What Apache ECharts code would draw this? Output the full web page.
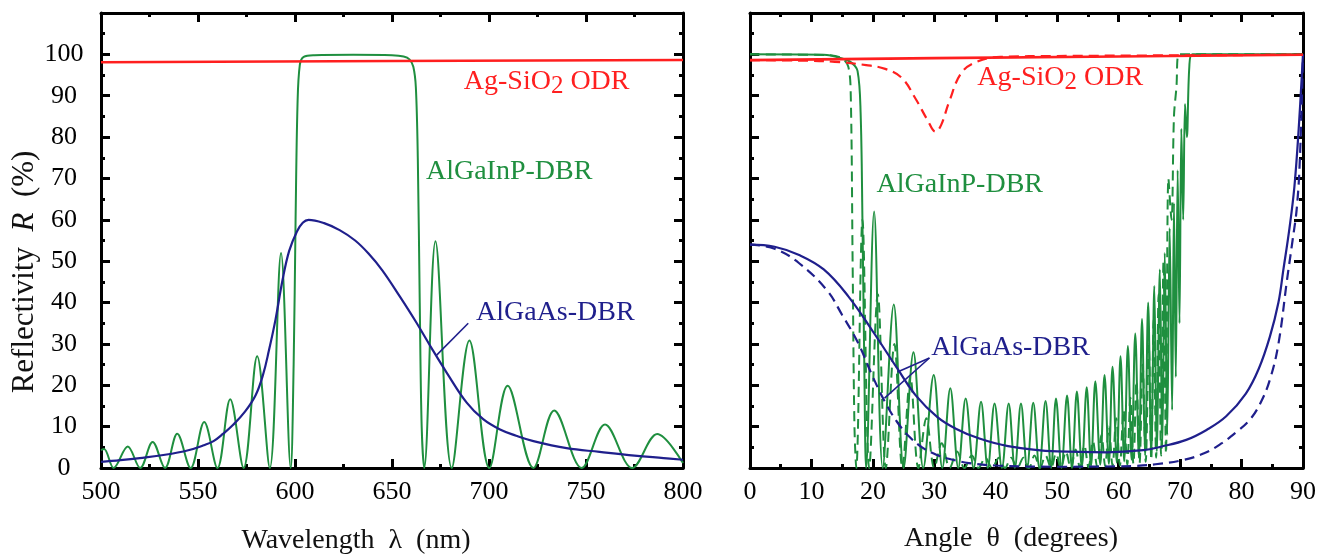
<!DOCTYPE html>
<html><head><meta charset="utf-8">
<script src="https://cdn.jsdelivr.net/npm/echarts@6/dist/echarts.min.js"></script>
<style>html,body{margin:0;padding:0;background:#fff}#c{width:1319px;height:558px}</style>
</head><body><div id="c"></div>
<script>
// ---------- DATA ----------
// Left panel: reflectivity vs wavelength (nm)
const redLeft = [[500,98.1],[650,98.4],[800,98.65]];
const greenLeft = [[500,4.3],[501.6,4.6],[506.5,0],[513.8,5.2],[520.2,0],[526.6,6.3],[533,0],[539.3,8.3],[546.2,0],[553.2,11.1],[560,0],[566.6,16.6],[573.5,0],[580.5,27],[587,0],[592.8,52],[597.8,0],[599.3,25],[600.3,60],[601.3,88],[602.5,97.5],[604.5,99.4],[610,99.8],[630,99.9],[650,99.8],[656,99.5],[659,98.8],[661,97],[662.3,92],[663.3,75],[664.3,40],[665.3,10],[666.6,0],[672.4,54.8],[680.8,0],[689.9,30.8],[700.2,0],[709.6,19.9],[722.9,0],[733.6,13.9],[747.8,0],[759.8,10.5],[773.8,0],[786.7,8.2],[800,1.2]];
const blueLeft = [[500,1.5],[510,1.9],[520,2.4],[533,3.2],[545,4.3],[553,5.5],[558,6.5],[563,8.3],[568,10.4],[574,13.5],[579.7,17.6],[583.5,22.5],[586.6,28.5],[590,36],[593.6,45.5],[597,52.5],[601,57.2],[604,59.3],[607,60],[615,59.2],[623,57.5],[631,55],[638,51.8],[645,47.8],[654,41.5],[662,35.6],[671,28.5],[678,23.2],[688.5,15.8],[697,11.8],[705.7,9.3],[714,7.8],[722.9,6.5],[740,4.8],[757,3.9],[775,3.0],[790,2.4],[800,2.0]];

// Right panel: reflectivity vs angle (degrees)
const redRight = [[0,98.6],[30,99.1],[60,99.5],[90,99.9]];
const redRightDash = [[0,98.6],[8,98.5],[13.8,98.2],[18.9,97.4],[22,96.5],[24.7,94.3],[26.9,89.4],[28.9,84.1],[30.2,81.3],[31.1,82.9],[32.4,88.5],[34.4,95.5],[36.9,98.2],[40.8,99.4],[50,99.6],[90,99.9]];
const greenRight = [[0,100],[12,99.9],[15,99],[16.5,98],[17.5,96],[18,86],[18.3,60],[18.6,25],[18.9,0],[20.2,62],[21.6,0],[23.4,39.5],[25.0,0],[26.6,28],[28.2,0],[29.9,22.5],[31.3,0],[32.6,19.3],[33.9,0],[35.1,16.8],[36.4,0],[37.6,16],[38.7,0],[39.8,15.6],[41,0],[42.1,15.6],[43.1,0],[44.1,15.6],[45.1,0],[46.1,15.8],[47.1,0],[48.1,16.2],[49,0],[49.8,16.8],[50.7,0],[51.6,17.5],[52.4,0],[53.2,18.5],[54,0.3],[54.8,19.5],[55.5,0.5],[56.2,21],[57,0.8],[57.7,22.5],[58.4,1],[59,24.5],[59.7,1.3],[60.3,27],[60.9,1.6],[61.5,29.5],[62.1,2],[62.7,32.5],[63.3,2.5],[63.8,36],[64.3,3],[64.8,40],[65.3,3.5],[65.8,44],[66.2,4],[66.7,48],[67.1,5],[67.5,52],[67.9,8],[68.3,58],[68.7,14],[69.0,64],[69.3,22],[69.6,72],[69.9,35],[70.2,82],[70.5,60],[70.8,88],[71.1,80],[71.5,97],[72,100],[90,100]];
const greenRightDash = [[0,100],[13,99.8],[15,99],[16,97],[16.4,90],[16.7,50],[17.0,10],[17.3,0],[18.3,60],[19.4,0],[20.8,42],[22.1,0],[23.5,30],[24.8,0],[26.1,22],[27.4,0],[28.7,12],[30,0],[31.2,6],[32.5,0],[33.7,4],[34.9,0],[36.1,3],[37.2,0],[38.3,2.5],[39.4,0],[40.5,2.5],[41.5,0],[42.5,2.5],[43.5,0],[44.5,2.5],[45.4,0],[46.3,3],[47.2,0],[48.1,3],[49,0],[49.8,3.5],[50.6,0],[51.4,4],[52.2,0],[53,4.5],[53.7,0],[54.4,5.5],[55.1,0.2],[55.8,6.5],[56.5,0.3],[57.2,8],[57.8,0.4],[58.4,10],[59,0.5],[59.6,12],[60.2,0.6],[60.8,14],[61.4,0.8],[61.9,17],[62.4,1],[62.9,21],[63.4,1.2],[63.9,25],[64.4,1.5],[64.9,30],[65.3,2],[65.7,36],[66.1,2.5],[66.5,42],[66.9,3],[67.3,50],[67.7,3.5],[68.1,70],[68.6,60],[69,85],[69.4,92],[69.8,100],[90,100]];
const blueRight = [[0,54],[4,53.5],[8,51.5],[12,48],[16,41.5],[20,33],[24,24],[27,17.5],[30.5,12.3],[33.5,9.5],[37,7.3],[42,5.3],[50,4],[58,3.8],[64,4.3],[67,5.2],[71,6.8],[74.3,9.2],[77.5,12.5],[80.7,18],[82.8,24],[84.6,31.7],[86,40],[86.8,47.9],[87.8,58],[88.6,68],[89.3,82],[90,100]];
const blueRightDash = [[0,54],[4,53],[8,49.5],[12.5,43],[15,37],[17.6,30.2],[20,22],[22.1,15.6],[24,11],[25.9,7.6],[28,5],[30.5,3.1],[33,2],[35.6,1.2],[40,0.6],[50,0.3],[60,0.4],[62.7,0.5],[66,0.9],[70.4,1.9],[74,3.6],[76.8,6],[79,8.5],[81.3,11.6],[83,15.5],[84.6,21.3],[86,30],[87.4,45.5],[88.3,55],[89,63],[89.5,75],[90,100]];

// Axes ranges / ticks
const wlRange = [500, 800, 50];
const angRange = [0, 90, 10];
const rRange = [0, 110, 10];

// Text
const xTitleLeft = 'Wavelength\u00a0\u00a0λ\u00a0\u00a0(nm)';
const xTitleRight = 'Angle\u00a0\u00a0θ\u00a0\u00a0(degrees)';
const yTitle = ['Reflectivity\u00a0\u00a0', 'R', '\u00a0\u00a0(%)'];
const labels = [
  {panel:0, at:[687,93.3], kind:'odr'},
  {panel:0, at:[667.5,71.6], kind:'gainp'},
  {panel:0, at:[693.3,37.5], kind:'gaas'},
  {panel:1, at:[37.0,94.3], kind:'odr'},
  {panel:1, at:[20.6,68.4], kind:'gainp'},
  {panel:1, at:[29.5,29.0], kind:'gaas'}
];
const leaderLeft = [[[689.3,35.0],[673,27.3]]];
const leaderRight = [[[29.2,26.6],[24.0,23.2]],[[29.2,26.6],[21.9,16.9]]];

// ---------- CHART ----------
const FONT = 'Liberation Serif';
const RED = '#ff1f1f', GREEN = '#1f8f3f', BLUE = '#1f1f8c';
const tickRich = {t:{fontFamily:FONT, fontSize:26, color:'#000'}};

function xAx(grid, r, pos, showLabel) {
  return {type:'value', gridIndex:grid, position:pos, min:r[0], max:r[1], interval:r[2],
    axisLine:{show:true, onZero:false, lineStyle:{color:'#000', width:3}},
    axisTick:{show:true, inside:true, length:9, lineStyle:{color:'#000', width:3}},
    minorTick:{show:true, splitNumber:2, length:4, lineStyle:{color:'#000', width:3}},
    splitLine:{show:false}, minorSplitLine:{show:false},
    axisLabel:{show:showLabel, color:'#000', fontFamily:FONT, fontSize:26, margin:11,
      formatter: v => '{t|' + v + '}', rich:tickRich}
  };
}
function yAx(grid, r, pos, showLabel) {
  return {type:'value', gridIndex:grid, position:pos, min:r[0], max:r[1], interval:r[2],
    axisLine:{show:true, onZero:false, lineStyle:{color:'#000', width:3}},
    axisTick:{show:true, inside:true, length:9, lineStyle:{color:'#000', width:3}},
    minorTick:{show:true, splitNumber:2, length:4, lineStyle:{color:'#000', width:3}},
    splitLine:{show:false}, minorSplitLine:{show:false},
    axisLabel:{show:showLabel, color:'#000', fontFamily:FONT, fontSize:26, margin:37, align:'center',
      formatter: v => (v > 100 ? '' : '{t|' + v + '}'), rich:tickRich}
  };
}
function line(name, data, xi, color, width, dashed, smooth, z) {
  return {type:'line', name, data, xAxisIndex:xi, yAxisIndex:xi, showSymbol:false, symbol:'none',
    smooth, z, lineStyle:{color, width, type: dashed ? [10,6] : 'solid'}, silent:true};
}
function leader(segs) {
  return {silent:true, symbol:['none','none'], label:{show:false},
    lineStyle:{color:BLUE, width:1.6, type:'solid'},
    data: segs.map(s => [{coord:s[0]},{coord:s[1]}])};
}

const chart = echarts.init(document.getElementById('c'), null, {renderer:'canvas'});
const blueL = line('AlGaAs-DBR', blueLeft, 0, BLUE, 2.2, false, 0.4, 4);
blueL.markLine = leader(leaderLeft);
const blueR = line('AlGaAs-DBR', blueRight, 2, BLUE, 2.2, false, 0.4, 4);
blueR.markLine = leader(leaderRight);

chart.setOption({
  animation:false,
  backgroundColor:'#fff',
  textStyle:{fontFamily:FONT},
  grid:[
    {left:101, right:1319-683, top:13, bottom:558-468},
    {left:750, right:1319-1305, top:13, bottom:558-468}
  ],
  xAxis:[xAx(0, wlRange, 'bottom', true), xAx(0, wlRange, 'top', false),
         xAx(1, angRange, 'bottom', true), xAx(1, angRange, 'top', false)],
  yAxis:[yAx(0, rRange, 'left', true), yAx(0, rRange, 'right', false),
         yAx(1, rRange, 'left', false), yAx(1, rRange, 'right', false)],
  series:[
    line('AlGaInP-DBR', greenLeft, 0, GREEN, 2, false, 0.35, 2),
    blueL,
    line('Ag-SiO2 ODR', redLeft, 0, RED, 2.6, false, false, 6),
    line('AlGaInP-DBR TM', greenRightDash, 2, GREEN, 2, true, 0.35, 2),
    line('AlGaInP-DBR', greenRight, 2, GREEN, 2, false, 0.35, 3),
    line('AlGaAs-DBR TM', blueRightDash, 2, BLUE, 2.2, true, 0.4, 4),
    blueR,
    line('Ag-SiO2 ODR TM', redRightDash, 2, RED, 2.2, true, 0.4, 5),
    line('Ag-SiO2 ODR', redRight, 2, RED, 2.6, false, false, 6)
  ]
});

function annText(kind, color) {
  const base = {fontFamily:FONT, fontSize:28, lineHeight:34, fill:color};
  if (kind === 'odr') {
    return {text:'{m|Ag-SiO}{s|2}{m|\u00a0ODR}', rich:{m:base, s:{fontFamily:FONT, fontSize:25, lineHeight:12, verticalAlign:'bottom', fill:color}}};
  }
  return {text:'{m|' + (kind === 'gainp' ? 'AlGaInP-DBR' : 'AlGaAs-DBR') + '}', rich:{m:base}};
}
const colorOf = {odr:RED, gainp:GREEN, gaas:BLUE};
const graphics = labels.map(l => {
  const p = chart.convertToPixel({xAxisIndex:l.panel*2, yAxisIndex:l.panel*2}, l.at);
  const t = annText(l.kind, colorOf[l.kind]);
  return {type:'text', x:p[0], y:p[1], z:100, silent:true,
    style:Object.assign({fill:colorOf[l.kind], fontFamily:FONT, fontSize:28, align:'left', verticalAlign:'middle'}, t)};
});
graphics.push({type:'text', x:356, y:541, z:100, silent:true,
  style:{text:xTitleLeft, fill:'#111', fontFamily:FONT, fontSize:28, align:'center', verticalAlign:'middle'}});
graphics.push({type:'text', x:1011, y:539, z:100, silent:true,
  style:{text:xTitleRight, fill:'#111', fontFamily:FONT, fontSize:28, align:'center', verticalAlign:'middle'}});
graphics.push({type:'text', x:25, y:272, rotation:Math.PI/2, z:100, silent:true,
  style:{text:'{a|' + yTitle[0] + '}{i|' + yTitle[1] + '}{a|' + yTitle[2] + '}',
    fill:'#111', fontFamily:FONT, fontSize:31, align:'center', verticalAlign:'middle',
    rich:{a:{fontFamily:FONT, fontSize:31, fill:'#111'}, i:{fontFamily:FONT, fontSize:31, fontStyle:'italic', fill:'#111'}}}});
chart.setOption({graphic:graphics});
</script></body></html>
